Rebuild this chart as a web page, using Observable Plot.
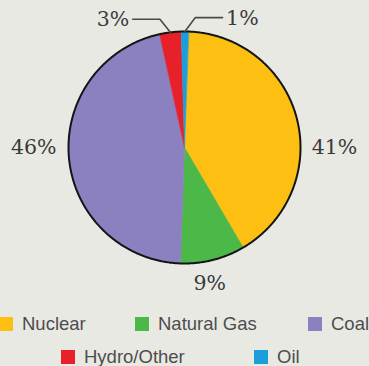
<!DOCTYPE html>
<html><head><meta charset="utf-8">
<script src="https://cdn.jsdelivr.net/npm/d3@7"></script>
<script src="https://cdn.jsdelivr.net/npm/@observablehq/plot@0.6"></script>
<style>
html,body{margin:0;padding:0;background:#e9e9e4;}
#chart{position:relative;width:369px;height:366px;overflow:hidden;background:#e9e9e4;}
#chart svg{position:absolute;left:0;top:0;}
.item{position:absolute;display:flex;align-items:center;white-space:nowrap;font-family:"Liberation Sans",Arial,sans-serif;font-size:18.5px;color:#4d4d4d;line-height:18px;}
.sw{width:14px;height:14px;margin-right:9px;flex:none;}
</style></head><body><div id="chart"></div>
<script>
// ---- data ----
const categories = ["Nuclear", "Natural Gas", "Coal", "Hydro/Other", "Oil"];
const shares = [41, 9, 46, 3, 1];
const labels = ["41%", "9%", "46%", "3%", "1%"];
const colors = ["#fdbf12", "#4cb847", "#8b80c0", "#e62129", "#1b9fda"];

// ---- layout (code, not data) ----
const rotation = 2; // degrees clockwise from 12 o'clock
const total = d3.sum(shares);
const rad = Math.PI / 180;
const pt = (deg, r) => ({x: r * Math.sin(deg * rad), y: r * Math.cos(deg * rad)});

let acc = rotation;
const slices = categories.map((c, i) => {
  const a0 = acc, a1 = acc + shares[i] / total * 360;
  acc = a1;
  return {cat: c, a0, a1, mid: (a0 + a1) / 2, label: labels[i]};
});

const wedgePts = [];
for (const s of slices) {
  wedgePts.push({cat: s.cat, ...pt(0, 0)});
  const n = Math.max(2, Math.ceil((s.a1 - s.a0) / 0.5));
  for (let k = 0; k <= n; k++) wedgePts.push({cat: s.cat, ...pt(s.a0 + (s.a1 - s.a0) * k / n, 1)});
}
const ringPts = d3.range(0, 360, 0.5).map(a => pt(a, 1));

// label placement: angle/radius for outside labels, leader lines for small slices
const labelPlace = {"Nuclear": [90, 1.293], "Natural Gas": [169.5, 1.19], "Coal": [270, 1.30]};
const leaderSide = {"Hydro/Other": -1, "Oil": 1};
const leaderY = {"Hydro/Other": 1.105, "Oil": 1.12};
const textData = [], leaderPts = [];
for (const s of slices) {
  if (labelPlace[s.cat]) {
    const [a, r] = labelPlace[s.cat];
    textData.push({...pt(a, r), text: s.label, anchor: "middle"});
  } else {
    const side = leaderSide[s.cat];
    const p0 = pt(s.mid, 1.0);
    const e = {x: p0.x + side * 0.09, y: leaderY[s.cat]};
    const end = {x: e.x + side * 0.235, y: e.y};
    leaderPts.push({cat: s.cat, ...p0}, {cat: s.cat, ...e}, {cat: s.cat, ...end});
    textData.push({x: end.x + side * 0.03, y: end.y - 0.005, text: s.label, anchor: side < 0 ? "end" : "start"});
  }
}

const svgH = 305;
const plot = Plot.plot({
  width: 369,
  height: svgH,
  marginLeft: 68, marginRight: 69, marginTop: 31, marginBottom: svgH - 263,
  x: {domain: [-1, 1], axis: null},
  y: {domain: [-1, 1], axis: null},
  color: {domain: categories, range: colors},
  style: {background: "transparent", overflow: "visible"},
  marks: [
    Plot.line(wedgePts, {x: "x", y: "y", z: "cat", fill: "cat", stroke: "cat", strokeWidth: 0.6, curve: "linear-closed"}),
    Plot.line(ringPts, {x: "x", y: "y", stroke: "#151515", strokeWidth: 2, curve: "linear-closed"}),
    Plot.line(leaderPts, {x: "x", y: "y", z: "cat", stroke: "#4a4a4a", strokeWidth: 1.6}),
    Plot.text(textData.filter(d => d.anchor === "middle"), {x: "x", y: "y", text: "text", fontFamily: "DejaVu Serif", fontSize: 20.5, fill: "#3a3a3a", textAnchor: "middle"}),
    Plot.text(textData.filter(d => d.anchor === "end"), {x: "x", y: "y", text: "text", fontFamily: "DejaVu Serif", fontSize: 20.5, fill: "#3a3a3a", textAnchor: "end"}),
    Plot.text(textData.filter(d => d.anchor === "start"), {x: "x", y: "y", text: "text", fontFamily: "DejaVu Serif", fontSize: 20.5, fill: "#3a3a3a", textAnchor: "start"})
  ]
});
const chart = document.getElementById("chart");
chart.appendChild(plot);

// legend (HTML, below the SVG)
const legendPos = [[-1, 317], [135, 317], [308, 317], [61, 350], [254, 350]];
categories.forEach((c, i) => {
  const it = document.createElement("div");
  it.className = "item";
  it.style.left = legendPos[i][0] + "px";
  it.style.top = (legendPos[i][1] - 2) + "px";
  it.style.height = "18px";
  const sw = document.createElement("span");
  sw.className = "sw";
  sw.style.background = colors[i];
  const tx = document.createElement("span");
  tx.textContent = c;
  it.append(sw, tx);
  chart.appendChild(it);
});
</script></body></html>
